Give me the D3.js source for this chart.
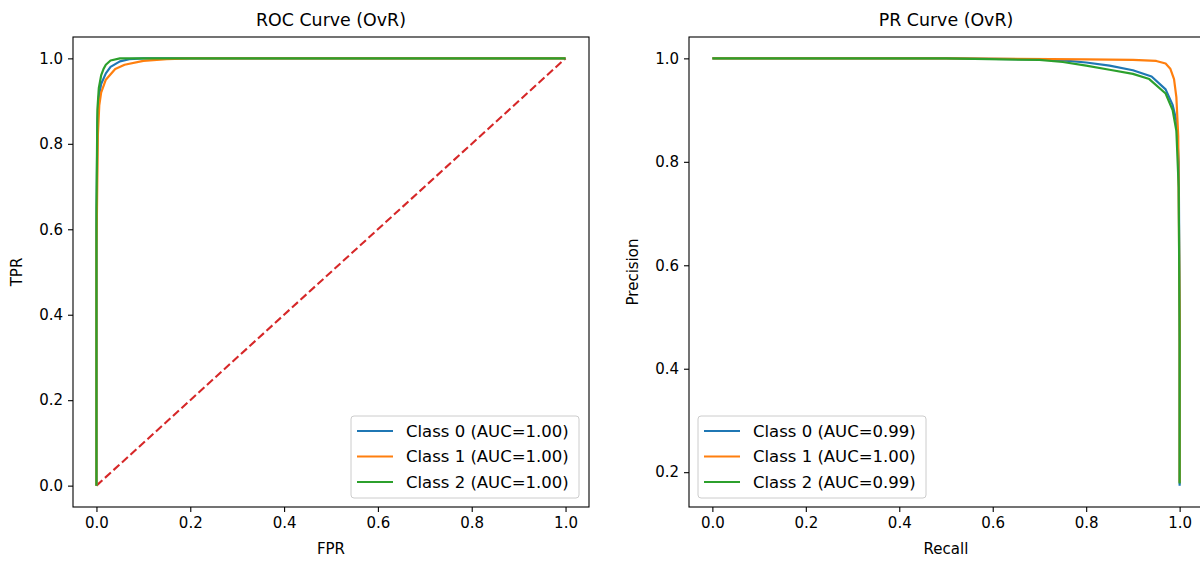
<!DOCTYPE html>
<html>
<head>
<meta charset="utf-8">
<script src="https://cdn.jsdelivr.net/npm/d3@7"></script>
<style>
    body { margin: 0; background: #fff; }
    svg { display: block; font-family: "DejaVu Sans", sans-serif; }
</style>
</head>
<body>
<div id="chart"></div>
<script>
    // ROC curves (one-vs-rest)
    var rocFpr0 = [0, 0, 0.002, 0.005, 0.01, 0.02, 0.03, 0.05, 0.07, 0.1, 1];
    var rocTpr0 = [0, 0.6, 0.85, 0.91, 0.94, 0.965, 0.98, 0.993, 0.998, 1, 1];
    var rocFpr1 = [0, 0, 0.003, 0.006, 0.01, 0.02, 0.04, 0.06, 0.1, 0.15, 0.2, 1];
    var rocTpr1 = [0, 0.55, 0.82, 0.89, 0.92, 0.95, 0.975, 0.985, 0.994, 0.998, 1, 1];
    var rocFpr2 = [0, 0, 0.002, 0.005, 0.01, 0.015, 0.02, 0.03, 0.05, 1];
    var rocTpr2 = [0, 0.65, 0.88, 0.93, 0.96, 0.975, 0.985, 0.995, 1, 1];

    // PR curves
    var prRecall0 = [0, 0.5, 0.7, 0.75, 0.8, 0.85, 0.9, 0.94, 0.97, 0.985, 0.993, 0.998, 1, 1];
    var prPrec0 = [1, 1, 0.998, 0.996, 0.992, 0.986, 0.977, 0.965, 0.94, 0.91, 0.88, 0.8, 0.5, 0.174];
    var prRecall1 = [0, 0.5, 0.8, 0.9, 0.95, 0.97, 0.98, 0.988, 0.993, 0.997, 1, 1];
    var prPrec1 = [1, 1, 0.998, 0.997, 0.995, 0.99, 0.98, 0.96, 0.925, 0.85, 0.5, 0.18];
    var prRecall2 = [0, 0.5, 0.7, 0.75, 0.8, 0.85, 0.9, 0.935, 0.97, 0.985, 0.993, 0.998, 1, 1];
    var prPrec2 = [1, 1, 0.997, 0.993, 0.986, 0.978, 0.97, 0.96, 0.932, 0.9, 0.86, 0.75, 0.45, 0.178];

    var classNames = ["Class 0", "Class 1", "Class 2"];
    var rocAuc = ["1.00", "1.00", "1.00"];
    var prAuc = ["0.99", "1.00", "0.99"];
    var ticks01 = [0, 0.2, 0.4, 0.6, 0.8, 1.0];
    var prYTicks = [0.2, 0.4, 0.6, 0.8, 1.0];

    var COLORS = ["#1f77b4", "#ff7f0e", "#2ca02c"];
    var width = 1200, height = 563;
    var TICK_FONT = 15, LEGEND_FONT = 16.5, TITLE_FONT = 17.4;

    var svg = d3.select("#chart").append("svg")
        .attr("width", width)
        .attr("height", height);

    function zipPoints(xs, ys) {
        return xs.map((x, i) => [x, ys[i]]);
    }

    function drawPanel(opts) {
        var x = d3.scaleLinear().domain(opts.xDomain).range([opts.left, opts.right]);
        var y = d3.scaleLinear().domain(opts.yDomain).range([opts.bottom, opts.top]);
        var g = svg.append("g");

        var clipId = "clip-" + opts.id;
        g.append("clipPath").attr("id", clipId)
            .append("rect")
            .attr("x", opts.left).attr("y", opts.top)
            .attr("width", opts.right - opts.left)
            .attr("height", opts.bottom - opts.top);

        var line = d3.line().x(d => x(d[0])).y(d => y(d[1]));
        var plot = g.append("g").attr("clip-path", "url(#" + clipId + ")");

        if (opts.diagonal) {
            plot.append("path")
                .datum([[0, 0], [1, 1]])
                .attr("d", line)
                .attr("fill", "none")
                .attr("stroke", "#d62728")
                .attr("stroke-width", 2.1)
                .attr("stroke-dasharray", "8,3.5");
        }

        opts.series.forEach((s, i) => {
            plot.append("path")
                .datum(s)
                .attr("d", line)
                .attr("fill", "none")
                .attr("stroke", COLORS[i])
                .attr("stroke-width", 2.2)
                .attr("stroke-linejoin", "round");
        });

        // axes
        var xAxis = g.append("g")
            .attr("transform", "translate(0," + opts.bottom + ")")
            .call(d3.axisBottom(x).tickValues(opts.xTicks).tickFormat(d3.format(".1f"))
                .tickSize(5).tickPadding(5));
        var yAxis = g.append("g")
            .attr("transform", "translate(" + opts.left + ",0)")
            .call(d3.axisLeft(y).tickValues(opts.yTicks).tickFormat(d3.format(".1f"))
                .tickSize(5).tickPadding(5));
        [xAxis, yAxis].forEach(a => {
            a.select(".domain").remove();
            a.selectAll("line").attr("stroke", "#000").attr("stroke-width", 1.1);
            a.selectAll("text")
                .attr("fill", "#000")
                .style("font-size", TICK_FONT + "px")
                .style("font-family", "DejaVu Sans");
        });

        // spines
        g.append("rect")
            .attr("x", opts.left).attr("y", opts.top)
            .attr("width", opts.right - opts.left)
            .attr("height", opts.bottom - opts.top)
            .attr("fill", "none")
            .attr("stroke", "#000")
            .attr("stroke-width", 1.1);

        // title + labels
        var cx = (opts.left + opts.right) / 2;
        g.append("text")
            .attr("x", cx).attr("y", 26)
            .attr("text-anchor", "middle")
            .style("font-size", TITLE_FONT + "px")
            .text(opts.title);
        g.append("text")
            .attr("x", cx).attr("y", 554)
            .attr("text-anchor", "middle")
            .style("font-size", TICK_FONT + "px")
            .text(opts.xLabel);
        g.append("text")
            .attr("transform", "translate(" + opts.yLabelX + "," + ((opts.top + opts.bottom) / 2) + ") rotate(-90)")
            .attr("text-anchor", "middle")
            .style("font-size", TICK_FONT + "px")
            .text(opts.yLabel);

        // legend
        var lg = g.append("g").attr("transform", "translate(" + opts.legendX + "," + opts.legendY + ")");
        lg.append("rect")
            .attr("width", 228).attr("height", 82)
            .attr("rx", 3)
            .attr("fill", "#fff").attr("fill-opacity", 0.8)
            .attr("stroke", "#ccc");
        opts.labels.forEach((lab, i) => {
            var ry = 15 + i * 25.5;
            lg.append("line")
                .attr("x1", 6).attr("x2", 42)
                .attr("y1", ry).attr("y2", ry)
                .attr("stroke", COLORS[i]).attr("stroke-width", 2.2);
            lg.append("text")
                .attr("x", 55).attr("y", ry)
                .attr("dy", "0.36em")
                .style("font-size", LEGEND_FONT + "px")
                .text(lab);
        });
    }

    // ROC panel
    drawPanel({
        id: "roc",
        left: 73, right: 589, top: 37, bottom: 507,
        xDomain: [-0.05, 1.05], yDomain: [-0.05, 1.05],
        xTicks: ticks01, yTicks: ticks01,
        series: [zipPoints(rocFpr0, rocTpr0), zipPoints(rocFpr1, rocTpr1), zipPoints(rocFpr2, rocTpr2)],
        diagonal: true,
        title: "ROC Curve (OvR)", xLabel: "FPR", yLabel: "TPR", yLabelX: 22,
        labels: classNames.map((c, i) => c + " (AUC=" + rocAuc[i] + ")"),
        legendX: 351, legendY: 416
    });

    // PR panel, y limits with matplotlib-like 5% margins
    var prMin = d3.min([].concat(prPrec0, prPrec1, prPrec2));
    var prMax = d3.max([].concat(prPrec0, prPrec1, prPrec2));
    var pad = (prMax - prMin) * 0.05;
    drawPanel({
        id: "pr",
        left: 689, right: 1203, top: 37, bottom: 507,
        xDomain: [-0.05, 1.05], yDomain: [prMin - pad, prMax + pad],
        xTicks: ticks01, yTicks: prYTicks,
        series: [zipPoints(prRecall0, prPrec0), zipPoints(prRecall1, prPrec1), zipPoints(prRecall2, prPrec2)],
        diagonal: false,
        title: "PR Curve (OvR)", xLabel: "Recall", yLabel: "Precision", yLabelX: 638,
        labels: classNames.map((c, i) => c + " (AUC=" + prAuc[i] + ")"),
        legendX: 698, legendY: 416
    });
</script>
</body>
</html>
